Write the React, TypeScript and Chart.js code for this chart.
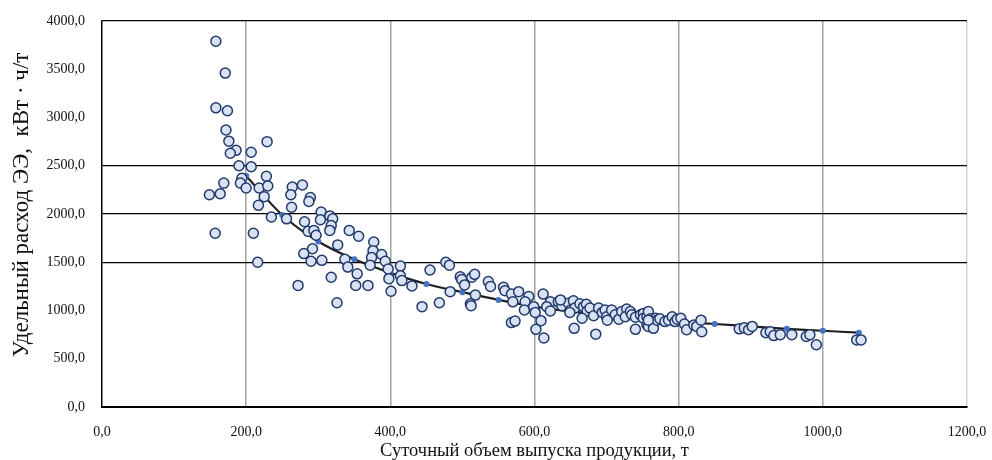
import React, { useEffect, useRef } from 'react';
import { Chart, registerables } from 'chart.js';

Chart.register(...registerables);

// Scatter: daily output (t) vs specific electricity use (kWh/t)
const outputX = [
  158, 171, 158, 174, 172, 176, 186, 178, 190, 194, 192, 169, 164, 149, 157,
  207, 207, 200, 228, 218, 230, 225, 217, 235, 256, 210, 216, 272, 229, 264,
  262, 263, 278, 289, 287, 281, 304, 303, 316, 320, 318, 316, 286, 294, 297,
  292, 280, 290, 305, 318, 326, 327, 343, 356, 377, 376, 388, 374, 372, 337,
  341, 354, 352, 369, 393, 397, 398, 401, 414, 414, 416, 430, 455, 444, 468,
  477, 482, 497, 499, 503, 513, 517, 483, 518, 511, 512, 536, 539, 557, 559,
  568, 578, 570, 592, 587, 586, 599, 601, 568, 573, 602, 609, 613, 612, 622,
  617, 622, 633, 638, 647, 654, 650, 656, 663, 668, 672, 673, 677, 666, 682,
  689, 694, 698, 700, 707, 712, 717, 701, 655, 685, 649, 636, 721, 728, 726,
  733, 735, 740, 740, 747, 751, 751, 756, 756, 758, 758, 761, 765, 768, 770,
  774, 781, 786, 791, 795, 798, 803, 808, 811, 821, 825, 831, 832, 758, 884,
  891, 897, 902, 921, 927, 932, 941, 957, 977, 982, 991, 1047, 1053,
];
const energyY = [
  3790, 3460, 3100, 3070, 2870, 2755, 2660, 2630, 2500, 2370, 2320, 2320, 2210, 2200, 1800,
  2640, 2490, 2270, 2390, 2270, 2290, 2180, 2090, 1970, 1950, 1800, 1500, 1260, 2750, 2280,
  2200, 2070, 2300, 2170, 2130, 1920, 2020, 1940, 1980, 1950, 1880, 1830, 1820, 1830, 1780,
  1640, 1590, 1510, 1520, 1345, 1080, 1680, 1830, 1770, 1710, 1620, 1580, 1550, 1470, 1530,
  1450, 1380, 1260, 1260, 1510, 1430, 1330, 1200, 1460, 1360, 1310, 1255, 1420, 1040, 1080,
  1500, 1470, 1350, 1320, 1265, 1345, 1375, 1195, 1160, 1070, 1050, 1300, 1250, 1240, 1205,
  1170, 1195, 1090, 1145, 1090, 1005, 1040, 980, 875, 890, 805, 895, 715, 1170, 1090,
  1040, 995, 1090, 1050, 1075, 1100, 1005, 1025, 1070, 1040, 1065, 995, 1025, 920, 945,
  1025, 980, 1005, 935, 1005, 955, 910, 900, 815, 755, 980, 1110, 990, 1015, 935,
  990, 955, 930, 805, 955, 970, 920, 935, 850, 990, 835, 915, 815, 920, 900,
  915, 885, 900, 935, 885, 910, 920, 860, 800, 850, 835, 900, 780, 900, 810,
  820, 800, 835, 770, 780, 740, 750, 750, 730, 750, 645, 695, 695,
];

// Trend line points
const trendX = [200, 250, 300, 350, 400, 450, 500, 550, 600, 650, 700, 750, 800, 850, 900, 950, 1000, 1050];
const trendY = [2395, 1990, 1715, 1530, 1390, 1275, 1190, 1110, 1040, 990, 950, 915, 885, 860, 835, 810, 790, 770];

const xAxisMin = 0;
const xAxisMax = 1200;
const xStep = 200;
const yAxisMin = 0;
const yAxisMax = 4000;
const yStep = 500;
const yDarkGrid = [1500, 2000, 2500, 4000];

const xTitle = 'Суточный объем выпуска продукции, т';
const yTitle = 'Удельный расход ЭЭ,  кВт · ч/т';

const FONT = "'Liberation Serif', 'Times New Roman', serif";
const fmt = (v: number) => Number(v).toFixed(1).replace('.', ',');

const yTitlePlugin = {
  id: 'yTitlePlugin',
  afterDraw(chart: any) {
    const ctx = chart.ctx;
    ctx.save();
    ctx.font = `23px ${FONT}`;
    ctx.fillStyle = '#111';
    ctx.textAlign = 'center';
    ctx.textBaseline = 'middle';
    ctx.translate(22, 205);
    ctx.rotate(-Math.PI / 2);
    ctx.fillText(yTitle, 0, 0);
    ctx.restore();
  },
};

export default function App() {
  const ref = useRef<HTMLCanvasElement | null>(null);

  useEffect(() => {
    document.body.style.margin = '0';
    const canvas = ref.current;
    if (!canvas) return;
    const chart = new Chart(canvas, {
      type: 'scatter',
      data: {
        datasets: [
          {
            label: 'data',
            data: outputX.map((x, i) => ({ x, y: energyY[i] })),
            backgroundColor: '#D8E2F3',
            borderColor: '#22396B',
            borderWidth: 1.5,
            pointRadius: 5,
            order: 1,
          },
          {
            label: 'trend',
            data: trendX.map((x, i) => ({ x, y: trendY[i] })),
            showLine: true,
            borderColor: '#1f1f1f',
            borderWidth: 2.2,
            tension: 0.3,
            pointRadius: 3,
            pointBorderWidth: 0,
            pointBackgroundColor: '#4472C4',
            pointBorderColor: '#4472C4',
            order: 2,
          },
        ],
      },
      plugins: [yTitlePlugin],
      options: {
        responsive: false,
        animation: false,
        devicePixelRatio: 1,
        layout: { padding: { top: 21, right: 25, left: 0, bottom: 0 } },
        plugins: {
          legend: { display: false },
          tooltip: { enabled: false },
        },
        scales: {
          x: {
            type: 'linear',
            min: xAxisMin,
            max: xAxisMax,
            afterFit: (scale: any) => {
              scale.height = 53;
              scale.paddingLeft = 0;
              scale.paddingRight = 0;
            },
            ticks: {
              stepSize: xStep,
              padding: 17,
              color: '#111',
              font: { family: FONT, size: 14 },
              callback: (v: any) => fmt(v),
            },
            grid: {
              drawTicks: false,
              lineWidth: 1.5,
              color: (ctx: any) => {
                const v = ctx.tick && ctx.tick.value;
                if (v === xAxisMin) return 'rgba(0,0,0,0)';
                if (v === xAxisMax) return '#d4d4d4';
                return '#a3a3a3';
              },
            },
            border: { display: true, color: '#000', width: 2 },
            title: {
              display: true,
              text: xTitle,
              color: '#111',
              font: { family: FONT, size: 18.5, lineHeight: 1 },
              padding: { top: 0, bottom: 0 },
            },
          },
          y: {
            type: 'linear',
            min: yAxisMin,
            max: yAxisMax,
            afterFit: (scale: any) => {
              scale.width = 102;
              scale.paddingTop = 0;
              scale.paddingBottom = 0;
            },
            ticks: {
              stepSize: yStep,
              padding: 17,
              color: '#111',
              font: { family: FONT, size: 14 },
              callback: (v: any) => fmt(v),
            },
            grid: {
              drawTicks: false,
              lineWidth: 1.3,
              color: (ctx: any) => {
                const v = ctx.tick && ctx.tick.value;
                return yDarkGrid.includes(v) ? '#000' : 'rgba(0,0,0,0)';
              },
            },
            border: { display: true, color: '#000', width: 1.5 },
            title: { display: false },
          },
        },
      },
    } as any);
    return () => chart.destroy();
  }, []);

  return (
    <div style={{ width: 992, height: 460, background: '#fff' }}>
      <canvas ref={ref} width={992} height={460} style={{ display: 'block', width: 992, height: 460 }} />
    </div>
  );
}
